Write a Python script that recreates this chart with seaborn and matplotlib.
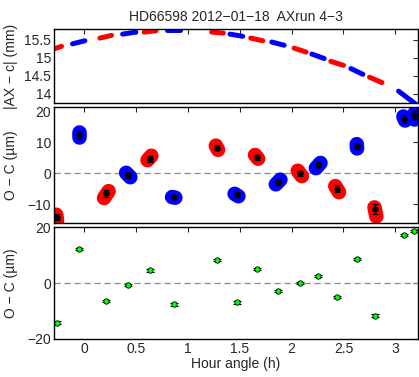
import numpy as np
import pandas as pd
import matplotlib
matplotlib.use("Agg")
import matplotlib.pyplot as plt
import seaborn as sns

# observations (hour angle, O-C in micron, error, colour of data file)
ha_obs = [-0.266, -0.050, 0.210, 0.425, 0.634, 0.869, 1.280, 1.471, 1.662, 1.870,
          2.078, 2.257, 2.434, 2.629, 2.806, 3.086, 3.182]
oc_obs = [-14.1, 12.3, -6.4, -0.6, 4.6, -7.6, 8.2, -6.9, 5.1, -2.9,
          0.0, 2.7, -4.9, 8.7, -11.6, 17.4, 18.7]
oc_err = [1.0, 1.2, 1.1, 0.9, 1.0, 0.7, 0.8, 0.8, 0.8, 0.8,
          0.9, 0.8, 1.0, 1.0, 1.6, 1.3, 1.3]
obs_col = ["r", "b", "r", "b", "r", "b", "r", "b", "r", "b",
           "r", "b", "r", "b", "r", "b", "b"]

# per-frame clouds (start / end of each cloud)
blob_ha0 = [-0.269, -0.054, 0.192, 0.405, 0.611, 0.848, 1.270, 1.451, 1.648, 1.848,
            2.060, 2.234, 2.421, 2.628, 2.799, 3.078, 3.182]
blob_oc0 = [-13.35, 13.25, -7.95, 0.15, 4.25, -7.65, 8.9, -6.62, 5.9, -3.55,
            0.81, 1.67, -4.12, 9.38, -10.99, 18.29, 19.48]
blob_ha1 = [-0.261, -0.054, 0.236, 0.445, 0.648, 0.879, 1.291, 1.487, 1.677, 1.892,
            2.099, 2.278, 2.457, 2.631, 2.817, 3.094, 3.182]
blob_oc1 = [-15.45, 11.65, -5.75, -1.25, 5.65, -7.85, 7.57, -7.38, 4.7, -2.05,
            -0.91, 3.33, -6.08, 8.02, -13.91, 17.01, 17.52]

# |AX - c| track for each data file
ax_ha0 = [-0.315, -0.112, 0.152, 0.371, 0.579, 0.801, 1.230, 1.406, 1.606, 1.809,
          2.024, 2.195, 2.378, 2.571, 2.751, 3.031]
ax_ha1 = [-0.218, 0.007, 0.264, 0.499, 0.692, 0.924, 1.342, 1.529, 1.722, 1.928,
          2.140, 2.314, 2.500, 2.687, 2.871, 3.224]
ax_mm0 = [15.225, 15.39, 15.55, 15.66, 15.717, 15.78, 15.717, 15.66, 15.55, 15.44,
          15.27, 15.105, 14.90, 14.70, 14.46, 14.07]
ax_mm1 = [15.32, 15.475, 15.625, 15.717, 15.753, 15.78, 15.69, 15.60, 15.475, 15.35,
          15.16, 14.98, 14.79, 14.54, 14.31, 13.65]
ax_col = ["r", "b", "r", "b", "r", "b", "r", "b", "r", "b",
          "r", "b", "r", "b", "r", "b"]

x_ticks = [0, 0.5, 1, 1.5, 2, 2.5, 3]
x_ticklabels = ["0", "0.5", "1", "1.5", "2", "2.5", "3"]

sns.set_style("white")
plt.rcParams["font.family"] = ["Liberation Sans", "DejaVu Sans"]
plt.rcParams["font.size"] = 10
plt.rcParams["axes.unicode_minus"] = True

pal = {"r": "#ff0000", "b": "#0000ff"}

# long tables for seaborn
ax_df = pd.DataFrame({
    "ha": ax_ha0 + ax_ha1,
    "val": ax_mm0 + ax_mm1,
    "seg": list(range(len(ax_ha0))) * 2,
    "col": ax_col * 2,
})
blob_df = pd.DataFrame({
    "ha": blob_ha0 + blob_ha1,
    "val": blob_oc0 + blob_oc1,
    "seg": list(range(len(blob_ha0))) * 2,
    "col": obs_col * 2,
})
obs_df = pd.DataFrame({"ha": ha_obs, "oc": oc_obs, "err": oc_err})

fig = plt.figure(figsize=(4.19, 3.77), dpi=100)
L, W = 0.129, 0.869
ax1 = fig.add_axes([L, 0.7268, W, 0.195])
ax2 = fig.add_axes([L, 0.4085, W, 0.3064])
ax3 = fig.add_axes([L, 0.1008, W, 0.2958])

# top: |AX - c|
sns.lineplot(data=ax_df, x="ha", y="val", hue="col", units="seg", estimator=None,
             sort=False, palette=pal, lw=3.6, solid_capstyle="round",
             legend=False, ax=ax1)
ax1.set_ylim(13.74, 15.79)
ax1.set_yticks([14, 14.5, 15, 15.5])
ax1.set_yticklabels(["14", "14.5", "15", "15.5"])
ax1.set_ylabel("|AX \u2212 c| (mm)")
ax1.set_title("HD66598 2012\u221201\u221218  AXrun 4\u22123", fontsize=10, pad=6)

# middle: clouds + mean with error bars
sns.lineplot(data=blob_df, x="ha", y="val", hue="col", units="seg", estimator=None,
             sort=False, palette=pal, lw=10.5, solid_capstyle="round",
             legend=False, ax=ax2)
ax2.axhline(0, color="0.55", ls="--", lw=0.9, dashes=(5, 3), zorder=1)
ax2.errorbar(obs_df["ha"], obs_df["oc"], yerr=obs_df["err"], fmt="o", color="black",
             ms=3.6, elinewidth=0.9, capsize=2.5, capthick=0.9, zorder=5)
ax2.set_ylim(-16.0, 21.2)
ax2.set_yticks([-10, 0, 10, 20])
ax2.set_yticklabels(["\u221210", "0", "10", "20"])
ax2.set_ylabel("O \u2212 C (\u00b5m)")

# bottom: means only
ax3.axhline(0, color="0.55", ls="--", lw=0.9, dashes=(5, 3), zorder=1)
ax3.errorbar(obs_df["ha"], obs_df["oc"], yerr=0.4, fmt="none",
             ecolor="black", elinewidth=0.8, capsize=3.2, capthick=0.8, zorder=3)
sns.scatterplot(data=obs_df, x="ha", y="oc", color="#00ff00", edgecolor="black",
                linewidth=0.6, s=15, zorder=4, ax=ax3)
ax3.set_ylim(-20, 20)
ax3.set_yticks([-20, 0, 20])
ax3.set_yticklabels(["\u221220", "0", "20"])
ax3.set_ylabel("O \u2212 C (\u00b5m)")
ax3.set_xlabel("Hour angle (h)", labelpad=1)

for a in (ax1, ax2, ax3):
    a.set_xlim(-0.29, 3.22)
    a.set_xticks(x_ticks)
    a.tick_params(direction="in", top=True, right=True, length=3.5, width=0.8,
                  labelsize=10, pad=2)
    for s in a.spines.values():
        s.set_linewidth(1.0)
        s.set_color("black")
    a.yaxis.set_label_coords(-0.10, 0.5)
    if a is not ax3:
        a.set_xlabel("")
        a.set_xticklabels([])
ax3.set_xticklabels(x_ticklabels)

fig.savefig("out.png", dpi=100)
